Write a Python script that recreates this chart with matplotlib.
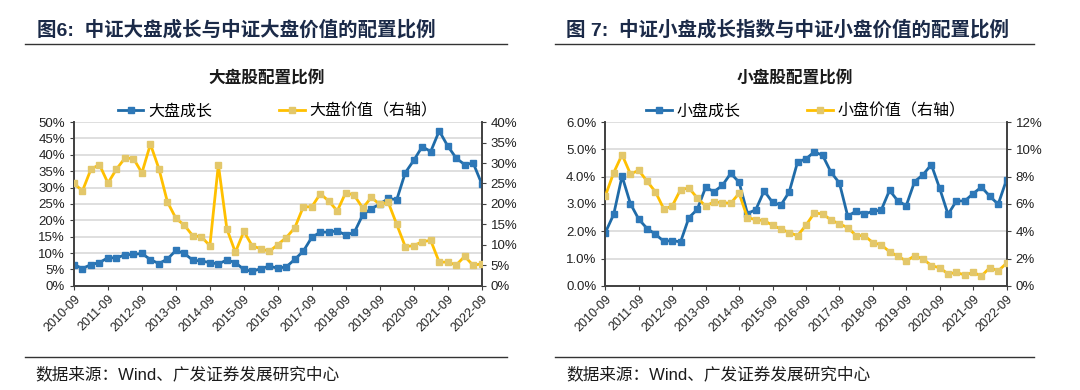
import numpy as np
import matplotlib.pyplot as plt
from matplotlib.ticker import FuncFormatter, MultipleLocator

plt.rcParams['font.family'] = ['Liberation Sans', 'Noto Sans CJK SC']
plt.rcParams['axes.unicode_minus'] = False

# quarterly dates, 2010-09 .. 2022-09
years = list(range(2010, 2023))
tick_labels = [f"{y}-09" for y in years]
n_q = 49

# left chart: large cap (%)
large_growth = [6.5, 5.3, 6.5, 7.1, 8.6, 8.5, 9.5, 9.6, 9.9, 8.0, 6.8, 8.2, 10.8, 9.9, 7.8, 7.6,
                7.1, 6.7, 7.9, 7.1, 5.0, 4.4, 5.3, 6.0, 5.4, 5.8, 8.1, 10.6, 14.8, 16.4, 16.4, 16.8,
                15.5, 16.3, 21.7, 23.6, 24.9, 26.7, 26.3, 34.5, 38.3, 42.5, 41.0, 47.3, 42.7, 39.0, 37.0, 37.5,
                31.2]
large_value = [25.0, 23.2, 28.5, 29.6, 25.1, 28.5, 31.2, 31.1, 27.6, 34.6, 28.6, 20.5, 16.5, 14.8, 12.2, 12.0,
               9.8, 29.6, 13.9, 8.2, 13.3, 9.7, 9.1, 8.4, 10.1, 11.8, 14.2, 19.3, 19.3, 22.5, 20.7, 18.3,
               22.8, 22.1, 19.0, 21.6, 19.9, 20.4, 15.0, 9.6, 9.8, 10.8, 11.1, 5.8, 5.8, 5.1, 7.2, 5.0,
               5.4]

# right chart: small cap (%)
small_growth = [1.95, 2.62, 4.02, 3.01, 2.44, 2.10, 1.89, 1.63, 1.66, 1.61, 2.50, 2.80, 3.61, 3.45, 3.68, 4.12,
                3.80, 2.65, 2.79, 3.48, 3.06, 2.96, 3.44, 4.54, 4.65, 4.91, 4.78, 4.16, 3.77, 2.55, 2.74, 2.62,
                2.74, 2.77, 3.50, 3.11, 2.94, 3.82, 4.07, 4.44, 3.57, 2.62, 3.11, 3.11, 3.38, 3.62, 3.28, 2.99,
                3.89]
small_value = [6.59, 8.29, 9.61, 8.20, 8.46, 7.66, 6.88, 5.63, 5.85, 7.05, 7.17, 6.44, 5.85, 6.15, 6.10, 6.05,
               6.78, 5.00, 4.85, 4.78, 4.44, 4.17, 3.90, 3.68, 4.44, 5.34, 5.27, 4.83, 4.54, 4.27, 3.68, 3.68,
               3.17, 3.00, 2.51, 2.17, 1.83, 2.20, 1.98, 1.49, 1.32, 0.88, 0.98, 0.80, 0.98, 0.73, 1.34, 1.10,
               1.66]

BLUE = '#1F6BA8'
BLUE_M = '#2E78B8'
GOLD = '#FFC000'
GOLD_M = '#E3C76A'
NAVY = '#1B2A48'
SPINE = '#404040'

fig = plt.figure(figsize=(10.8, 3.9), dpi=100)


def panel(left, right, fig_title, title_x, chart_title, series, names, ylims, fmts, steps):
    ax = fig.add_axes([left, 0.267, right - left, 0.42])
    ax2 = ax.twinx()
    x = np.arange(n_q)
    l1, = ax.plot(x, series[0], color=BLUE, lw=2.0, marker='s', ms=4,
                  mfc=BLUE_M, mec=BLUE_M, zorder=3)
    l2, = ax2.plot(x, series[1], color=GOLD, lw=2.0, marker='s', ms=4,
                   mfc=GOLD_M, mec=GOLD_M, zorder=3)
    ax.set_xlim(0, n_q - 1)
    ax.set_ylim(0, ylims[0])
    ax2.set_ylim(0, ylims[1])
    ax.yaxis.set_major_locator(MultipleLocator(steps[0]))
    ax2.yaxis.set_major_locator(MultipleLocator(steps[1]))
    ax.yaxis.set_major_formatter(FuncFormatter(lambda v, p: fmts[0].format(v)))
    ax2.yaxis.set_major_formatter(FuncFormatter(lambda v, p: fmts[1].format(v)))
    ax.set_xticks(np.arange(0, n_q, 4))
    ax.set_xticklabels(tick_labels, rotation=45, ha='right', rotation_mode='anchor')
    ax.grid(axis='y', color='#D9D9D9', lw=1.2)
    ax.set_axisbelow(True)
    for a in (ax, ax2):
        a.spines['top'].set_visible(False)
        for s in ('left', 'right', 'bottom'):
            a.spines[s].set_color(SPINE)
            a.spines[s].set_linewidth(1.2)
        a.tick_params(labelsize=9.5, colors=SPINE, labelcolor='#222222', length=3)
    ax.tick_params(axis='x', pad=2, labelsize=9)

    ax.legend([l1, l2], names, ncol=2, frameon=False, loc='lower center',
              bbox_to_anchor=(0.5, 0.955), columnspacing=4.2, handlelength=1.6,
              handletextpad=0.3, borderaxespad=0.2,
              prop={'family': 'Noto Sans CJK SC', 'size': 11.5})
    fig.text((left + right) / 2 - 0.01, 0.80, chart_title, ha='center', va='center',
             fontsize=12, fontweight='bold', family='Noto Sans CJK SC', color='#1a1a1a')
    fig.text(title_x, 0.925, fig_title, ha='left', va='center', fontsize=14,
             fontweight='bold', family=['Liberation Sans', 'Noto Sans CJK SC'], color=NAVY)
    return ax


panel(0.0685, 0.446, '图6:  中证大盘成长与中证大盘价值的配置比例', 0.034, '大盘股配置比例',
      [large_growth, large_value], ['大盘成长', '大盘价值（右轴）'], (50, 40),
      ('{:.0f}%', '{:.0f}%'), (5, 5))
panel(0.5605, 0.932, '图 7:  中证小盘成长指数与中证小盘价值的配置比例', 0.524, '小盘股配置比例',
      [small_growth, small_value], ['小盘成长', '小盘价值（右轴）'], (6, 12),
      ('{:.1f}%', '{:.0f}%'), (1, 2))

# header / footer rules
for x0, x1 in ((0.023, 0.469), (0.514, 0.957)):
    fig.add_artist(plt.Line2D([x0, x1], [0.887, 0.887], color='#333333', lw=1.0))
    fig.add_artist(plt.Line2D([x0, x1], [0.085, 0.085], color='#333333', lw=1.0))
fig.text(0.033, 0.040, '数据来源：Wind、广发证券发展研究中心', fontsize=12, va='center',
         family=['Liberation Sans', 'Noto Sans CJK SC'], color='#1a1a1a')
fig.text(0.524, 0.040, '数据来源：Wind、广发证券发展研究中心', fontsize=12, va='center',
         family=['Liberation Sans', 'Noto Sans CJK SC'], color='#1a1a1a')

fig.savefig('out.png', dpi=100, facecolor='white')
